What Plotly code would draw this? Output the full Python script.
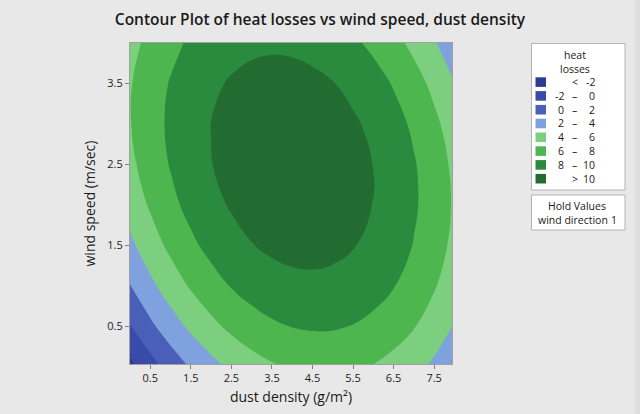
import plotly.graph_objects as go

# ---- data ----
dust_density = [0, 0.5, 1, 1.5, 2, 2.5, 3, 3.5, 4, 4.5, 5, 5.5, 6, 6.5, 7, 7.5, 8]  # g/m^2
wind_speed = [0.0, 0.5, 1.0, 1.5, 2.0, 2.5, 3.0, 3.5, 4.0]                          # m/sec
heat_losses = [  # rows: wind speed, cols: dust density
    [-2.56, -0.78, 0.80, 2.19, 3.38, 4.38, 5.19, 5.79, 6.21, 6.43, 6.45, 6.28, 5.91, 5.35, 4.59, 3.64, 2.49],
    [-0.09, 1.61, 3.11, 4.42, 5.53, 6.46, 7.19, 7.73, 8.07, 8.22, 8.19, 7.95, 7.53, 6.91, 6.11, 5.10, 3.91],
    [1.96, 3.57, 4.99, 6.22, 7.26, 8.11, 8.77, 9.24, 9.52, 9.61, 9.51, 9.22, 8.75, 8.08, 7.22, 6.17, 4.93],
    [3.58, 5.11, 6.45, 7.61, 8.57, 9.35, 9.94, 10.35, 10.56, 10.59, 10.44, 10.09, 9.56, 8.83, 7.93, 6.83, 5.55],
    [4.79, 6.23, 7.50, 8.58, 9.47, 10.18, 10.70, 11.04, 11.20, 11.17, 10.95, 10.55, 9.96, 9.19, 8.24, 7.09, 5.77],
    [5.56, 6.94, 8.12, 9.13, 9.95, 10.59, 11.05, 11.33, 11.42, 11.33, 11.06, 10.60, 9.97, 9.15, 8.15, 6.96, 5.59],
    [5.92, 7.22, 8.33, 9.26, 10.02, 10.59, 10.99, 11.20, 11.23, 11.09, 10.76, 10.26, 9.57, 8.70, 7.66, 6.43, 5.02],
    [5.86, 7.08, 8.12, 8.98, 9.67, 10.18, 10.51, 10.66, 10.64, 10.44, 10.06, 9.50, 8.77, 7.86, 6.77, 5.50, 4.06],
    [5.38, 6.52, 7.49, 8.29, 8.91, 9.35, 9.62, 9.72, 9.64, 9.38, 8.95, 8.35, 7.57, 6.62, 5.49, 4.18, 2.70],
]
levels = [-2, 0, 2, 4, 6, 8, 10]
legend_rows = [("<", "", "-2"), ("-2", "–", "0"), ("0", "–", "2"), ("2", "–", "4"),
               ("4", "–", "6"), ("6", "–", "8"), ("8", "–", "10"), (">", "", "10")]
x_ticks = [0.5, 1.5, 2.5, 3.5, 4.5, 5.5, 6.5, 7.5]
y_ticks = [0.5, 1.5, 2.5, 3.5]
hold_name = "wind direction"
hold_value = "1"

band_colors = ["#2e3a94", "#3a4aa8", "#4a60b8", "#7fa2df",
               "#7ccf7e", "#4db64f", "#2a8a3d", "#226c31"]

FONT = "Open Sans"
W, H = 640, 414
L, R, T, B = 130, 452, 43, 364

n = len(band_colors) - 1
colorscale = [[i / n, c] for i, c in enumerate(band_colors)]

fig = go.Figure()
fig.add_trace(go.Contour(
    x=dust_density, y=wind_speed, z=heat_losses,
    contours=dict(start=levels[0], end=levels[-1], size=levels[1] - levels[0], coloring="fill"),
    colorscale=colorscale, showscale=False,
    line=dict(width=0, smoothing=1.3),
    hoverinfo="skip",
))

def px(xp):
    return (xp - L) / (R - L)

def py(yp):
    return (B - yp) / (B - T)

shapes = []
annotations = []

# legend boxes
shapes.append(dict(type="rect", xref="paper", yref="paper",
                   x0=px(531.5), x1=px(625), y0=py(190), y1=py(43.5),
                   fillcolor="white", line=dict(color="#b4b4b4", width=1)))
shapes.append(dict(type="rect", xref="paper", yref="paper",
                   x0=px(531.5), x1=px(625), y0=py(230), y1=py(195),
                   fillcolor="white", line=dict(color="#b4b4b4", width=1)))
# window edge
shapes.append(dict(type="rect", xref="paper", yref="paper",
                   x0=px(635), x1=px(641), y0=py(415), y1=py(-1),
                   fillcolor="#dedede", line=dict(width=0)))

lf = dict(family=FONT, size=10.5, color="#1a1a1a")
annotations.append(dict(text="heat", xref="paper", yref="paper", x=px(575), y=py(55.5),
                        showarrow=False, font=lf, xanchor="center", yanchor="middle"))
annotations.append(dict(text="losses", xref="paper", yref="paper", x=px(575), y=py(69.5),
                        showarrow=False, font=lf, xanchor="center", yanchor="middle"))

for i, (left, mid, right) in enumerate(legend_rows):
    top = 77.3 + 13.8 * i
    shapes.append(dict(type="rect", xref="paper", yref="paper",
                       x0=px(535.5), x1=px(546), y0=py(top + 9.6), y1=py(top),
                       fillcolor=band_colors[i], line=dict(width=0)))
    yc = py(top + 4.8)
    if mid:
        annotations.append(dict(text=left, xref="paper", yref="paper", x=px(565.5), y=yc,
                                showarrow=False, font=lf, xanchor="right", yanchor="middle"))
        annotations.append(dict(text=mid, xref="paper", yref="paper", x=px(574.5), y=yc,
                                showarrow=False, font=lf, xanchor="center", yanchor="middle"))
    else:
        annotations.append(dict(text=left, xref="paper", yref="paper", x=px(575), y=yc,
                                showarrow=False, font=lf, xanchor="center", yanchor="middle"))
    annotations.append(dict(text=right, xref="paper", yref="paper", x=px(597), y=yc,
                            showarrow=False, font=lf, xanchor="right", yanchor="middle"))

annotations.append(dict(text="Hold Values", xref="paper", yref="paper", x=px(577), y=py(205.5),
                        showarrow=False, font=lf, xanchor="center", yanchor="middle"))
annotations.append(dict(text=hold_name, xref="paper", yref="paper", x=px(536), y=py(220),
                        showarrow=False, font=lf, xanchor="left", yanchor="middle"))
annotations.append(dict(text=hold_value, xref="paper", yref="paper", x=px(619), y=py(220),
                        showarrow=False, font=lf, xanchor="right", yanchor="middle"))

axis_common = dict(showgrid=False, zeroline=False, showline=True, mirror=True,
                   linecolor="#a0a0a0", linewidth=1, ticks="outside", ticklen=4,
                   tickcolor="#808080", tickfont=dict(family=FONT, size=11, color="#222"))

fig.update_layout(
    width=W, height=H,
    margin=dict(l=L, r=W - R, t=T, b=H - B),
    paper_bgcolor="#e8e8e8", plot_bgcolor="#e8e8e8",
    title=dict(text="Contour Plot of heat losses vs wind speed, dust density",
               x=0.5, xref="container", xanchor="center", y=1 - 20 / H, yref="container",
               yanchor="middle",
               font=dict(family=FONT, size=15.5, color="#1a1a1a", weight=600)),
    xaxis=dict(range=[0, 7.94], tickvals=x_ticks, ticktext=[str(v) for v in x_ticks],
               title=dict(text="dust density (g/m²)", font=dict(family=FONT, size=14, color="#1a1a1a"),
                          standoff=7),
               **axis_common),
    yaxis=dict(range=[0.03, 4.0], tickvals=y_ticks, ticktext=[str(v) for v in y_ticks],
               title=dict(text="wind speed (m/sec)", font=dict(family=FONT, size=14, color="#1a1a1a"),
                          standoff=8),
               **axis_common),
    shapes=shapes, annotations=annotations,
    showlegend=False,
)

fig.write_html("out.html", config={"displayModeBar": False},
               post_script="document.body.style.margin='0';document.body.style.padding='0';")
